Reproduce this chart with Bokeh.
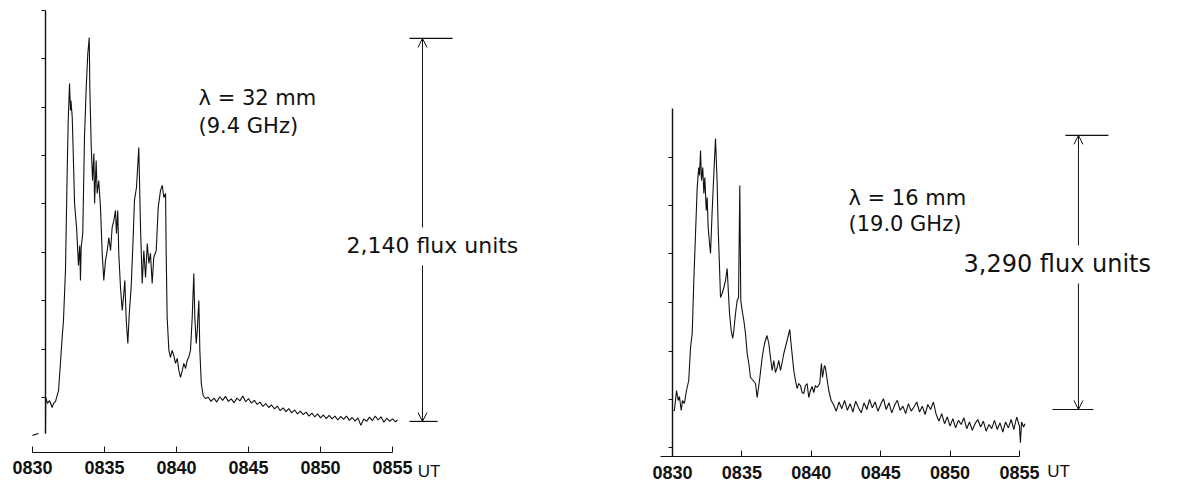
from bokeh.plotting import figure
from bokeh.layouts import row
from bokeh.models import FixedTicker, Arrow, OpenHead, Range1d, Label
from bokeh.embed import file_html
from bokeh.resources import INLINE

nan = float("nan")

# ---------------- data (time = minutes after 08:30 UT, flux in s.f.u. relative to the lower bar) ----------
time_ticks = [0, 5, 10, 15, 20, 25]
time_labels = ["0830", "0835", "0840", "0845", "0850", "0855"]

# 32 mm (9.4 GHz)
t32 = [0.0, 0.42, nan, 0.90, 0.92, 1.04, 1.18, 1.37, 1.46, 1.60, 1.81, 2.06, 2.15, 2.29, 2.41, 2.48,
       2.57, 2.64, 2.67, 2.76, 2.83, 2.92, 3.06, 3.15, 3.19, 3.28, 3.33, 3.38, 3.49, 3.61, 3.73, 3.84,
       3.94, 3.98, 4.08, 4.17, 4.26, 4.31, 4.42, 4.49, 4.60, 4.72, 4.84, 4.95, 5.07, 5.19, 5.30, 5.42,
       5.53, 5.65, 5.76, 5.83, 5.92, 5.99, 6.11, 6.23, 6.34, 6.41, 6.51, 6.62, 6.72, 6.85, 6.99, 7.08,
       7.22, 7.38, 7.43, 7.50, 7.62, 7.73, 7.85, 7.97, 8.08, 8.19, 8.31, 8.42, 8.59, 8.73, 8.89, 9.01,
       9.12, 9.24, 9.28, 9.35, 9.47, 9.58, 9.70, 9.81, 9.93, 10.05, 10.16, 10.28, 10.40, 10.51, 10.63,
       10.74, 10.85, 10.97, 11.09, 11.20, 11.27, 11.37, 11.44, 11.55, 11.62, 11.72, 11.85, 12.01,
       12.2, 12.4, 12.6, 12.8, 13.0, 13.2, 13.4, 13.6, 13.8, 14.0, 14.2, 14.4, 14.6, 14.8, 15.0, 15.2,
       15.4, 15.6, 15.8, 16.0, 16.2, 16.4, 16.6, 16.8, 17.0, 17.2, 17.4, 17.6, 17.8, 18.0, 18.2, 18.4,
       18.6, 18.8, 19.0, 19.2, 19.4, 19.6, 19.8, 20.0, 20.2, 20.4, 20.6, 20.8, 21.0, 21.2, 21.4, 21.6,
       21.8, 22.0, 22.2, 22.4, 22.6, 22.8, 23.0, 23.2, 23.4, 23.6, 23.8, 24.0, 24.2, 24.4, 24.6, 24.8,
       25.0, 25.2, 25.35]
f32 = [-78, -67, nan, -67, 134, 101, 117, 78, 101, 112, 173, 469, 564, 844, 1402, 1682,
       1888, 1738, 1793, 1698, 1497, 1218, 1084, 939, 872, 983, 788, 972, 1050, 1587, 1866, 2056,
       2145, 1866, 1531, 1346, 1497, 1218, 1458, 1274, 1346, 1196, 939, 788, 900, 955, 1028, 955,
       1084, 1123, 1179, 1050, 1179, 939, 749, 620, 715, 788, 564, 436, 603, 749, 1028, 1235,
       1307, 1531, 1346, 1084, 771, 955, 805, 994, 883, 939, 771, 916, 955, 1196, 1291, 1319,
       1251, 1274, 955, 581, 397, 358, 397, 369, 324, 352, 285, 246, 285, 324, 296,
       341, 358, 397, 581, 827, 581, 436, 508, 676, 397, 212, 145, 128,
       135, 112, 130, 108, 138, 118, 140, 112, 126, 104, 130, 115, 142, 110, 128, 102,
       118, 95, 108, 84, 100, 78, 92, 70, 86, 60, 76, 55, 72, 48, 64, 42,
       58, 38, 52, 30, 46, 26, 42, 20, 36, 16, 34, 14, 30, 8, 28, 12,
       30, 6, 22, 2, 20, -22, 14, 0, 24, 4, 30, 8, 26, -4, 18, 0,
       14, -2, 8]
ticks32 = [134, 404, 675, 945, 1216, 1486, 1756, 2027, 2297]

# 16 mm (19.0 GHz)
t16 = [0.07, 0.14, 0.29, 0.41, 0.50, 0.63, 0.72, 0.86, 1.01, 1.17, 1.30, 1.42, 1.53, 1.66, 1.78, 1.89,
       1.95, 2.02, 2.09, 2.18, 2.26, 2.33, 2.43, 2.50, 2.57, 2.67, 2.74, 2.86, 2.98, 3.10, 3.22, 3.29,
       3.39, 3.46, 3.58, 3.70, 3.82, 3.94, 4.01, 4.11, 4.23, 4.34, 4.42, 4.54, 4.66, 4.76, 4.85, 4.92,
       5.02, 5.14, 5.26, 5.38, 5.50, 5.62, 5.81, 5.98, 6.10, 6.27, 6.46, 6.63, 6.81, 6.94, 7.06, 7.18,
       7.30, 7.42, 7.54, 7.66, 7.78, 7.90, 8.02, 8.26, 8.45, 8.57, 8.74, 8.86, 8.98, 9.10, 9.22, 9.34,
       9.46, 9.58, 9.70, 9.82, 9.94, 10.06, 10.18, 10.30, 10.42, 10.61, 10.73, 10.81, 10.95, 11.02,
       11.15, 11.26, 11.43,
       11.6, 11.8, 12.0, 12.2, 12.4, 12.6, 12.8, 13.0, 13.2, 13.4, 13.6, 13.8, 14.0, 14.2, 14.4, 14.6,
       14.8, 15.0, 15.2, 15.4, 15.6, 15.8, 16.0, 16.2, 16.4, 16.6, 16.8, 17.0, 17.2, 17.4, 17.6, 17.8,
       18.0, 18.2, 18.4, 18.6, 18.8, 19.0, 19.2, 19.4, 19.6, 19.8, 20.0, 20.2, 20.4, 20.6, 20.8, 21.0,
       21.2, 21.4, 21.6, 21.8, 22.0, 22.2, 22.4, 22.6, 22.8, 23.0, 23.2, 23.4, 23.6, 23.8, 24.0, 24.2,
       24.4, 24.6, 24.8, 25.0, 25.07, 25.15, 25.3, 25.4]
f16 = [-12, -12, 228, 108, 156, -12, 108, 72, 228, 348, 744, 912, 1512, 2112, 2664, 2904,
       2808, 3108, 2748, 2904, 2592, 2784, 2388, 2544, 2184, 1992, 1872, 2388, 2832, 3252, 2712, 2184,
       1704, 1344, 1392, 1464, 1548, 1692, 1464, 1152, 948, 852, 948, 1152, 1308, 1344, 2688, 1308,
       1188, 1068, 912, 672, 552, 384, 348, 312, 144, 348, 624, 792, 888, 792, 624, 468,
       588, 444, 504, 588, 468, 564, 672, 828, 960, 744, 468, 348, 252, 312, 288, 204,
       192, 288, 312, 144, 228, 276, 204, 288, 264, 312, 552, 384, 528, 504,
       348, 228, 108,
       60, -20, 90, 10, 110, -10, 70, -30, 100, 20, -40, 80, 0, 120, 20, 90,
       -20, 60, 130, 0, 80, -40, 50, 110, -10, 40, -50, 70, -20, 30, 90, -30,
       40, -60, 60, 0, 90, -60, -140, -50, -170, -90, -200, -110, -220, -130, -180, -100,
       -230, -150, -250, -170, -120, -210, -140, -260, -180, -230, -130, -240, -160, -270, -150, -220,
       -120, -240, -90, -200, -400, -150, -210, -170]
ticks16 = [-456, 120, 700, 1284, 1872, 2448, 3024]

INK = "#111111"


def panel(width, xr, yr, x_axis_at, y_axis_at, y_bounds, x_bounds, yticks):
    p = figure(width=width, height=485, x_range=Range1d(*xr), y_range=Range1d(*yr),
               output_backend="svg", toolbar_location=None,
               min_border_left=0, min_border_right=0, min_border_top=0, min_border_bottom=0)
    p.outline_line_color = None
    p.grid.visible = False
    p.background_fill_color = "white"
    p.border_fill_color = "white"
    xa = p.xaxis[0]
    xa.fixed_location = x_axis_at
    xa.bounds = x_bounds
    xa.ticker = FixedTicker(ticks=time_ticks)
    xa.major_label_overrides = {k: v for k, v in zip(time_ticks, time_labels)}
    xa.major_tick_in = 6
    xa.major_tick_out = 0
    xa.minor_tick_line_color = None
    xa.axis_line_color = INK
    xa.axis_line_width = 1.2
    xa.major_tick_line_color = INK
    xa.major_label_text_font = "Liberation Sans"
    xa.major_label_text_font_style = "bold"
    xa.major_label_text_font_size = "18px"
    xa.major_label_text_color = INK
    xa.major_label_standoff = 9
    ya = p.yaxis[0]
    ya.fixed_location = y_axis_at
    ya.bounds = y_bounds
    ya.ticker = FixedTicker(ticks=yticks)
    ya.major_label_overrides = {k: "" for k in yticks}
    ya.major_tick_in = 0
    ya.major_tick_out = 4
    ya.minor_tick_line_color = None
    ya.axis_line_color = INK
    ya.axis_line_width = 1.4
    ya.major_tick_line_color = INK
    return p


def label(p, x, y, text, size="21px", font="DejaVu Sans"):
    p.add_layout(Label(x=x, y=y, text=text, text_font=font, text_font_size=size,
                       text_color=INK, text_baseline="middle", text_align="left"))


def span_arrow(p, x, top, bottom, gap_hi, gap_lo, top_bar, bot_bar):
    p.add_layout(Arrow(end=OpenHead(size=9, line_width=1, line_color=INK), line_color=INK,
                       line_width=1, x_start=x, y_start=gap_hi, x_end=x, y_end=top))
    p.add_layout(Arrow(end=OpenHead(size=9, line_width=1, line_color=INK), line_color=INK,
                       line_width=1, x_start=x, y_start=gap_lo, x_end=x, y_end=bottom))
    p.segment(x0=[top_bar[0], bot_bar[0]], y0=[top, bottom], x1=[top_bar[1], bot_bar[1]],
              y1=[top, bottom], line_color=INK, line_width=1.2)


# ---- left panel ----
p1 = panel(600, (-2.222, 39.44), (-358, 2352), -173, 0.90, (-67, 2297), (0, 25), ticks32)
p1.line(t32, f32, line_color=INK, line_width=1.1)
label(p1, 11.53, 1805, "λ = 32 mm")
label(p1, 11.53, 1648, "(9.4 GHz)")
label(p1, 21.8, 983, "2,140 flux units", size="22px")
span_arrow(p1, 27.08, 2140, 0, 1084, 872, (26.18, 29.17), (26.18, 28.13))
label(p1, 26.75, -280, "UT", size="17px", font="Liberation Sans")

# ---- right panel ----
p2 = panel(583, (-5.187, 36.82), (-912, 4908), -564, 0.0, (-564, 3612), (-0.85, 25), ticks16)
p2.line(t16, f16, line_color=INK, line_width=1.1)
label(p2, 12.68, 2544, "λ = 16 mm")
label(p2, 12.68, 2232, "(19.0 GHz)")
label(p2, 20.97, 1752, "3,290 flux units", size="24px")
span_arrow(p2, 29.25, 3290, 0, 1968, 1512, (28.31, 31.41), (27.38, 30.33))
label(p2, 27.0, -744, "UT", size="17px", font="Liberation Sans")

layout = row(p1, p2)
open("out.html", "w").write(file_html(layout, INLINE))
